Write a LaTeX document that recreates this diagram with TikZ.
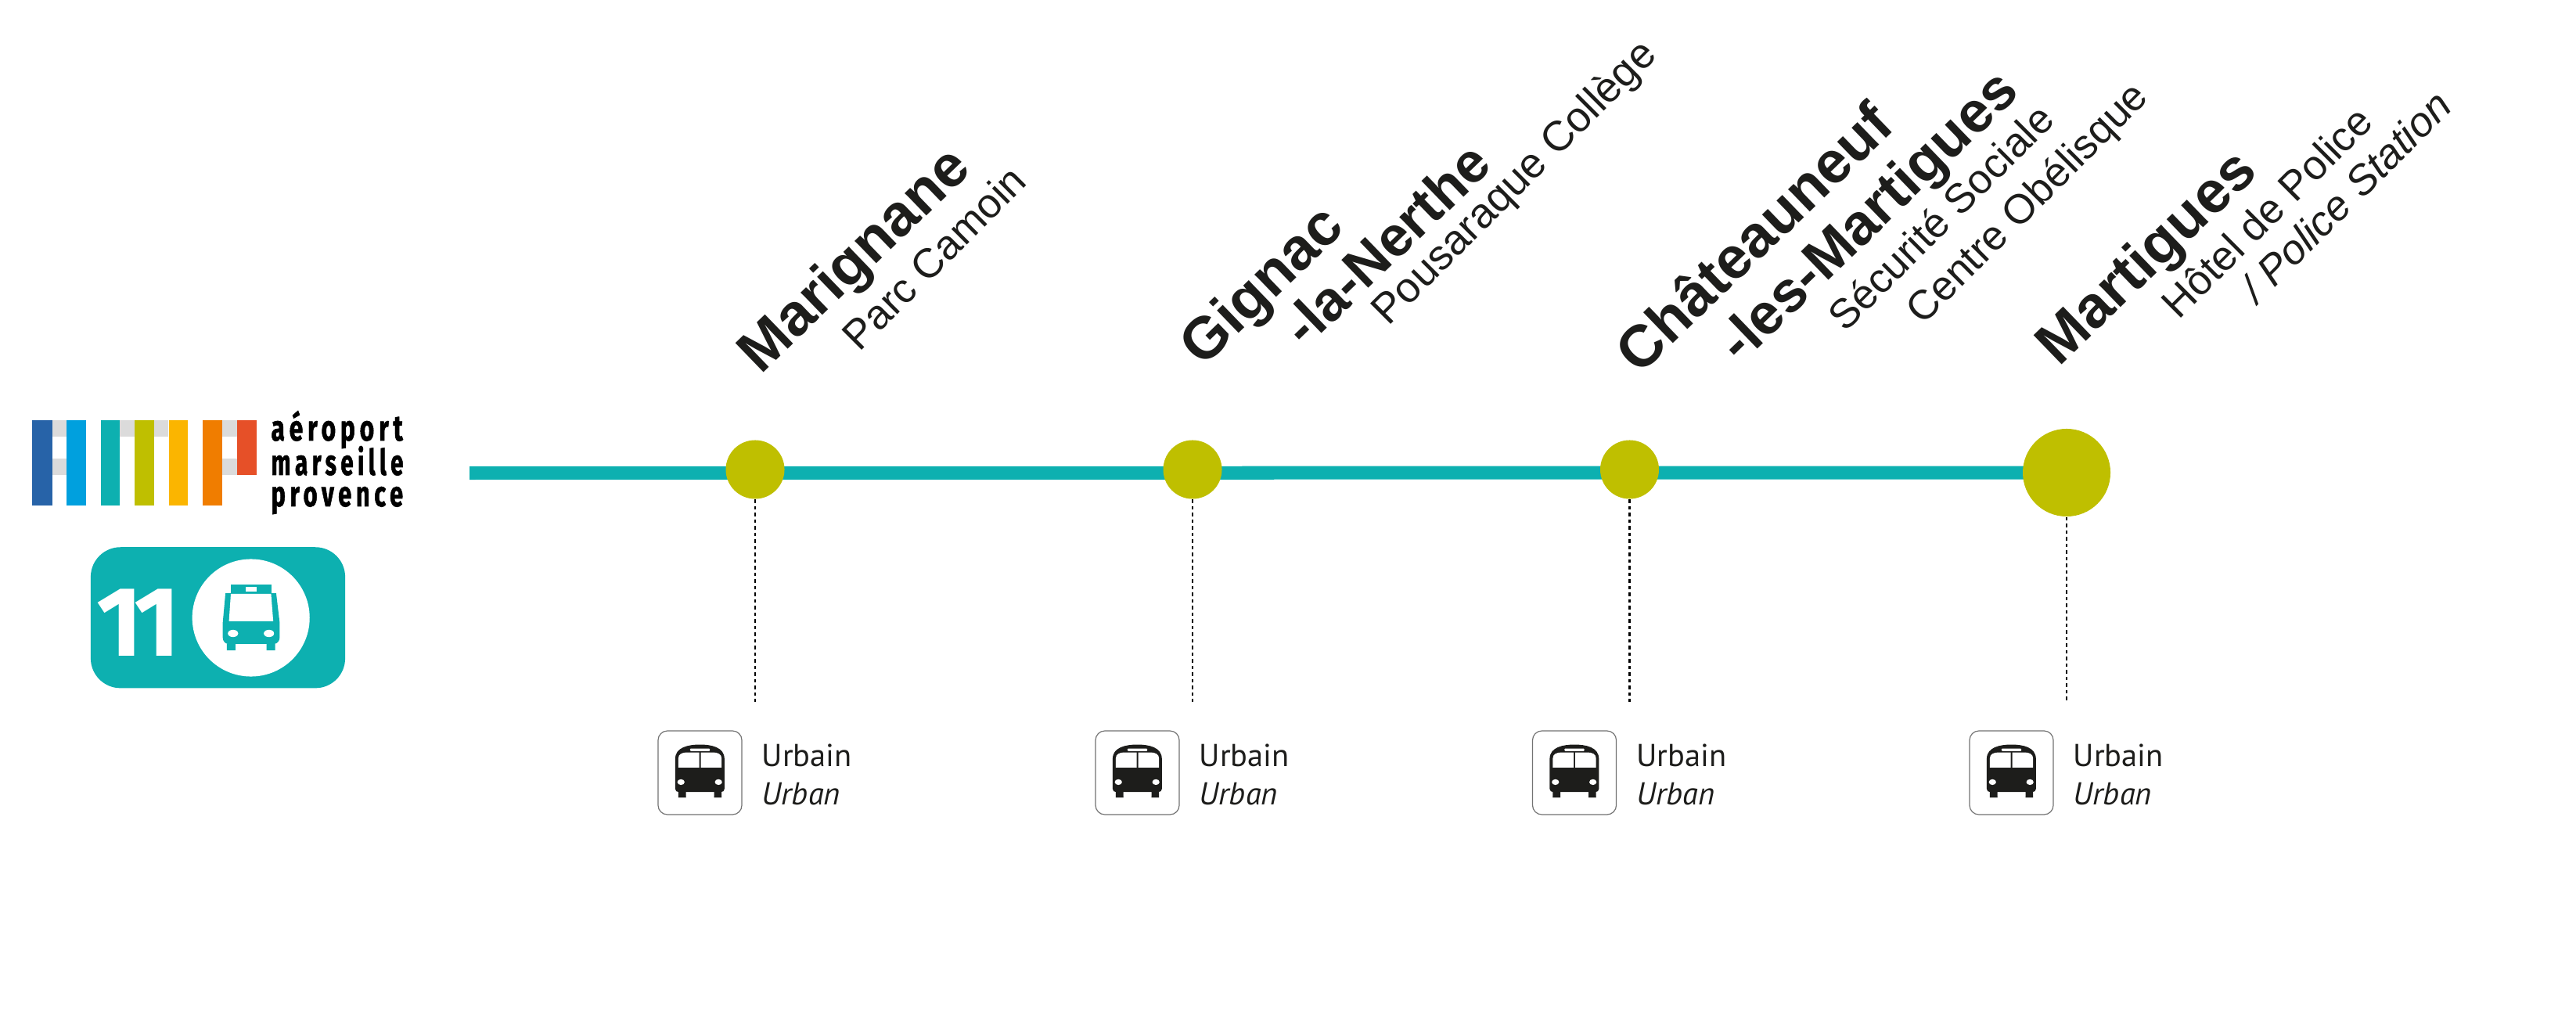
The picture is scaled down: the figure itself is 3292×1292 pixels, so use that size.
\documentclass[tikz,border=0pt]{standalone}
\usepackage{fontspec}
\usetikzlibrary{backgrounds}
\setmainfont{Liberation Sans}
\newfontfamily\urbfont{PT Sans}
\newfontfamily\logofont{Fira Sans}
\newfontfamily\logospaced[LetterSpace=18,BoldFeatures={FakeBold=1.5}]{Fira Sans}
\definecolor{teal11}{HTML}{0DB0B0}
\definecolor{olive11}{HTML}{BFBF00}
\definecolor{ink}{HTML}{1D1D1B}
\newcommand{\fs}[1]{\fontsize{#1}{#1}\selectfont}
\tikzset{
  x=0.01cm,y=-0.01cm,
  stationdot/.style={circle,fill=olive11,inner sep=0pt,minimum size=0.75cm},
  bigdot/.style={circle,fill=olive11,inner sep=0pt,minimum size=1.12cm},
  cityname/.style={anchor=base west,rotate=44,inner sep=0pt,text=ink,font=\bfseries\fs{21.4}},
  stopname/.style={anchor=base west,rotate=45,inner sep=0pt,text=ink,font=\fs{15}},
  stopita/.style={stopname,font=\itshape\fs{15.1}},
  drop/.style={line width=0.025cm,dash pattern=on 0.045cm off 0.04cm,black},
  urbbox/.style={draw=black!55,line width=0.012cm,rounded corners=0.12cm,minimum size=1.07cm,inner sep=0pt,fill=white},
  urbtxt/.style={anchor=base west,inner sep=0pt,text=ink,font=\urbfont\fs{11.5}},
  logotxt/.style={anchor=base west,inner sep=0pt,text=black,font=\logospaced\bfseries\fs{13}},
}
\begin{document}
\begin{tikzpicture}
\useasboundingbox (0,0) rectangle (3292,1292);
% logo
\foreach \a/\b/\c/\d in {66/85/537/557.7,66/85/585.7/606.7,153/172/537/557.7,197/215/537/557.7,284/303/537/557.7,284/303/585.7/606.7}
  \fill[black!14] (\a,\c) rectangle (\b,\d);
\fill[fill={rgb,255:red,39;green,99;blue,168}] (41.4,537) rectangle (66.5,646);
\fill[fill={rgb,255:red,0;green,160;blue,222}] (85,537) rectangle (110,646);
\fill[teal11] (128.6,537) rectangle (153.4,646);
\fill[olive11] (172,537) rectangle (197,646);
\fill[fill={rgb,255:red,251;green,181;blue,0}] (215.5,537) rectangle (240,646);
\fill[fill={rgb,255:red,240;green,125;blue,0}] (259,537) rectangle (284,646);
\fill[fill={rgb,255:red,230;green,80;blue,40}] (303,537) rectangle (327.6,606.7);
\node[logotxt,xscale=0.697] (lg1) at (346,563) {aéroport};
\node[logotxt,xscale=0.651] (lg2) at (346,607) {marseille};
\node[logotxt,xscale=0.677] (lg3) at (346,647) {provence};
% badge
\node[fill=teal11,rounded corners=0.38cm,inner sep=0pt,minimum width=3.25cm,minimum height=1.8cm] (badge) at (278.5,789.3) {};
\node[anchor=base west,inner sep=0pt,text=white,font=\logofont\bfseries\fs{36}] (num) at (123,838) {1\kern-0.085em 1};
\node[circle,fill=white,inner sep=0pt,minimum size=1.5cm] (buscirc) at (320.7,789.5) {};
\begin{scope}[shift={(0,500)},x=0.003444cm,y=-0.003333cm]
 \fill[teal11] (855,742) rectangle (1005,776);
 \fill[white] (910,751) rectangle (950,768);
 \fill[teal11] (835,776) -- (1023,776) -- (1036,890) -- (1036,945) to[out=-90,in=0] (1015,970) -- (1019,970) -- (1019,995) -- (987,995) -- (987,970) -- (872,970) -- (872,995) -- (840,995) -- (840,970) -- (845,970) to[out=180,in=-90] (825,945) -- (825,890) -- cycle;
 \fill[white] (855,778) -- (1004,778) -- (1012,883) -- (848,883) -- cycle;
 \fill[white] (863,930) ellipse[x radius=19,y radius=14];
 \fill[white] (996,930) ellipse[x radius=19,y radius=14];
\end{scope}
% stations
\foreach \n/\cx in {a/965,b/1524,c/2082.5} \node[stationdot] (st\n) at (\cx,600) {};
\node[bigdot] (std) at (2641,604) {};
\coordinate (linestart) at (600,604.5);
\begin{scope}[on background layer]
  \draw[teal11,line width=0.17cm] (linestart) -- (std.center);
\end{scope}
% names
\node[cityname] (n1) at (972,480) {Marignane};
\node[stopname] (s1) at (1098,451) {Parc Camoin};
\node[cityname] (n2a) at (1537,471) {Gignac};
\node[cityname,font=\bfseries\fs{20.4}] (n2b) at (1668,447) {-la-Nerthe};
\node[stopname,font=\fs{15.3}] (s2) at (1774,418) {Pousaraque Collège};
\node[cityname] (n3a) at (2095,481) {Châteauneuf};
\node[cityname,font=\bfseries\fs{20.9}] (n3b) at (2224,467) {-les-Martigues};
\node[stopname] (s3a) at (2358,426) {Sécurité Sociale};
\node[stopname] (s3b) at (2457,417) {Centre Obélisque};
\node[cityname] (n4) at (2631,470) {Martigues};
\node[stopname] (s4a) at (2784,410) {Hôtel de Police};
\node[stopita] (s4b) at (2885,390) {/ Police Station};
% urban
\foreach \n/\cx in {a/965,b/1524,c/2082.5,d/2641} {
  \coordinate (drop\n) at (\cx,897);
  \draw[drop] (st\n.south) -- (drop\n);
  \node[urbbox] (box\n) at (\cx-70.5,987.5) {};
  \begin{scope}[shift={(\cx-165,860)},x=0.003333cm,y=-0.003333cm]
   \fill[ink] (201,450) rectangle (230,478) (338,450) rectangle (367,478);
   \fill[ink] (201,478) arc[start angle=180,end angle=360,x radius=14.5,y radius=14];
   \fill[ink] (338,478) arc[start angle=180,end angle=360,x radius=14.5,y radius=14];
   \fill[ink] (189,330) .. controls (189,285) and (240,275) .. (284,275) .. controls (328,275) and (378,285) .. (378,330) -- (378,445) .. controls (378,453) and (372,457) .. (365,457) -- (202,457) .. controls (195,457) and (189,453) .. (189,445) -- cycle;
   \fill[white] (201,363) -- (201,328) .. controls (201,312) and (215,305) .. (235,305) -- (281,305) -- (281,363) -- cycle;
   \fill[white] (367,363) -- (367,328) .. controls (367,312) and (353,305) .. (333,305) -- (287,305) -- (287,363) -- cycle;
   \fill[white,rounded corners=0.01cm] (246,290) rectangle (322,300);
   \fill[white] (211,419) ellipse[x radius=14,y radius=11];
   \fill[white] (355,419) ellipse[x radius=14,y radius=11];
  \end{scope}
  \node[urbtxt] (ur\n) at (\cx+8,979) {Urbain};
  \node[urbtxt,font=\urbfont\itshape\fs{11.5}] (ui\n) at (\cx+8,1028) {Urban};
}
\end{tikzpicture}
\end{document}
